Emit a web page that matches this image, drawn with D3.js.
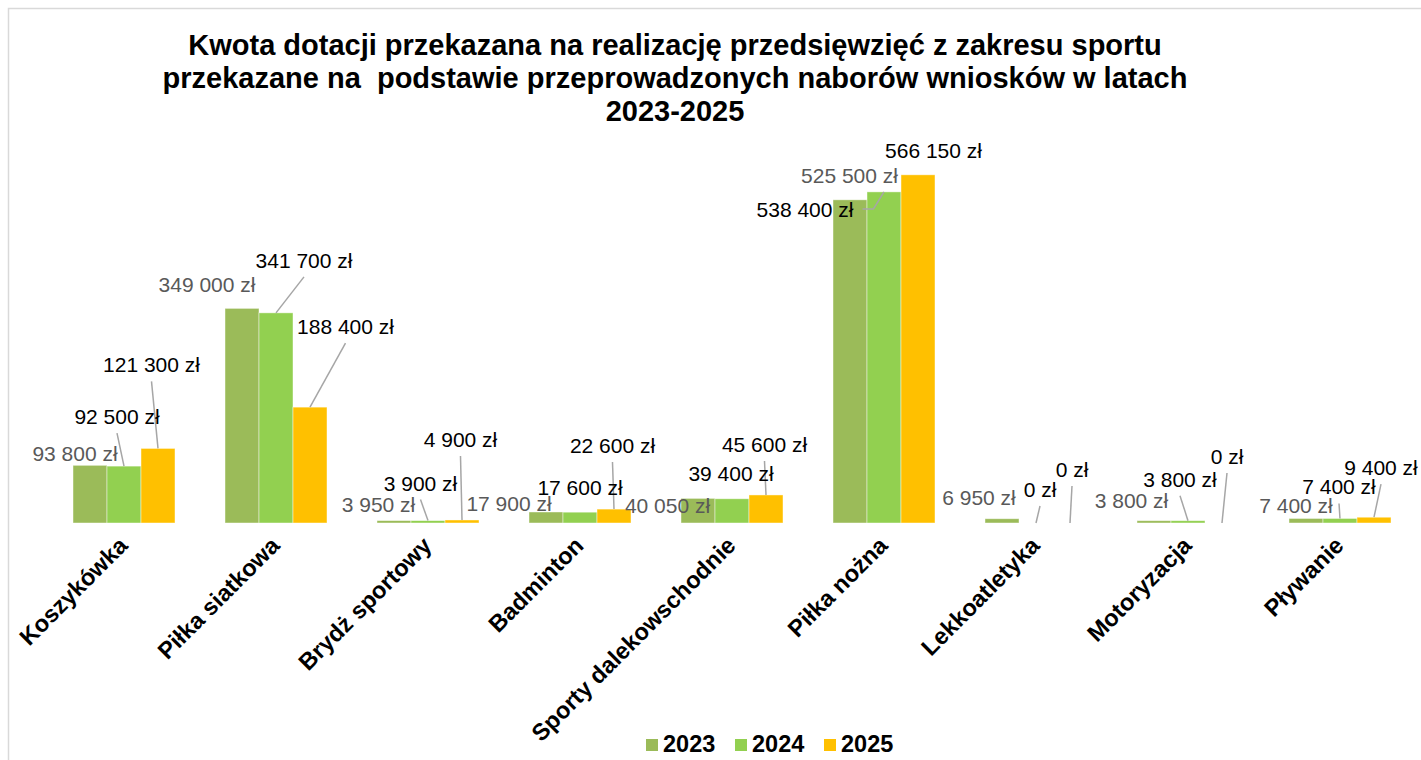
<!DOCTYPE html>
<html><head><meta charset="utf-8">
<script src="https://cdn.jsdelivr.net/npm/d3@7"></script>
<style>
html,body{margin:0;padding:0;background:#fff;}
svg{display:block;font-family:"Liberation Sans",Arial,sans-serif;}
</style></head>
<body><svg id="chart" width="1421" height="760"></svg>
<script>
// ---- data ----
const categories = ["Koszykówka","Piłka siatkowa","Brydż sportowy","Badminton","Sporty dalekowschodnie","Piłka nożna","Lekkoatletyka","Motoryzacja","Pływanie"];
const seriesNames = ["2023","2024","2025"];
const values2023 = [93800, 349000, 3950, 17900, 40050, 525500, 6950, 3800, 7400];
const values2024 = [92500, 341700, 3900, 17600, 39400, 538400, 0, 3800, 7400];
const values2025 = [121300, 188400, 4900, 22600, 45600, 566150, 0, 0, 9400];
const titleLines = ["Kwota dotacji przekazana na realizację przedsięwzięć z zakresu sportu",
                    "przekazane na  podstawie przeprowadzonych naborów wniosków w latach",
                    "2023-2025"];

// ---- styling / layout (label offsets from bar top: dx, dy, leader type) ----
const colors = ["#9BBB59","#92D050","#FFC000"];
const labelColors = ["#595959","#000000","#000000"];
const labelLayout = [
  [[-15,-4,0],[-35,-16,0],[-15.5,-9,0],[-37,-1,0],[-30.5,15,0],[-0.5,-17,0],[-23,-14,0],[-22.5,-13,0],[-10,-5,0]],
  [[-7,-42,1],[28,-45,1],[-7.5,-30,1],[0,-17,0],[-1,-18,0],[-79,25,2],[4,-26,1],[-8,-34,1],[-1,-24,1]],
  [[-6.5,-76,1],[35.5,-73,1],[-1.5,-73,1],[-1.5,-56,1],[-1.5,-43,1],[15.5,-17,0],[2,-46,1],[5,-59,1],[7,-42,1]]
];

const allValues = [values2023, values2024, values2025];
const svg = d3.select("#chart");

// chart border
svg.append("rect").attr("x",8.5).attr("y",8.5).attr("width",1440).attr("height",800)
  .attr("fill","#fff").attr("stroke","#d9d9d9").attr("stroke-width",1.5);

// title
const title = svg.append("text").attr("text-anchor","middle").attr("font-size",29)
  .attr("font-weight","bold").attr("fill","#000").style("white-space","pre");
titleLines.forEach((t,i)=>{
  title.append("tspan").attr("x",675).attr("y",55+i*33).style("white-space","pre").text(t);
});

// scales
const x0 = d3.scaleBand().domain(categories).range([48,1416]).paddingInner(0.329).paddingOuter(0.1645);
const x1 = d3.scaleBand().domain(seriesNames).range([0,x0.bandwidth()]);
const y = d3.scaleLinear().domain([0,600000]).range([523,154]);

const fmt = v => d3.format(",")(v).replace(/,/g," ") + " zł";

// bars
const gBars = svg.append("g");
seriesNames.forEach((s,si)=>{
  gBars.selectAll(null).data(categories).enter().append("rect")
    .attr("x",c=>x0(c)+x1(s))
    .attr("y",(c,i)=>y(allValues[si][i]))
    .attr("width",x1.bandwidth())
    .attr("height",(c,i)=>y(0)-y(allValues[si][i]))
    .attr("fill",colors[si])
    .attr("stroke","rgba(255,255,255,0.55)")
    .attr("stroke-width",0.8);
});

// data labels + leader lines
const gLead = svg.append("g");
const gLab = svg.append("g");
seriesNames.forEach((s,si)=>{
  categories.forEach((c,i)=>{
    const v = allValues[si][i];
    const bx = x0(c)+x1(s)+x1.bandwidth()/2;
    const by = y(v);
    const [dx,dy,lt] = labelLayout[si][i];
    const lx = bx+dx, ly = by+dy;
    const t = gLab.append("text").attr("x",lx).attr("y",ly).attr("text-anchor","middle")
      .attr("font-size",21).attr("fill",labelColors[si]).text(fmt(v));
    if(lt===1){
      gLead.append("line").attr("x1",lx).attr("y1",ly+9).attr("x2",bx).attr("y2",by)
        .attr("stroke","#a6a6a6").attr("stroke-width",1.5);
    } else if(lt===2){
      const w = t.node().getComputedTextLength();
      const sx = lx + w/2 + 9, sy = ly - 8;
      gLead.append("polyline").attr("points",`${sx},${sy} ${sx+11},${sy} ${bx},${by}`)
        .attr("fill","none").attr("stroke","#a6a6a6").attr("stroke-width",1.5);
    }
  });
});

// x axis labels
const xAxis = d3.axisBottom(x0).tickSize(0).tickPadding(0);
const gx = svg.append("g").attr("transform","translate(0,523)").call(xAxis);
gx.select(".domain").remove();
gx.selectAll(".tick text")
  .attr("font-family","\"Liberation Sans\",Arial,sans-serif")
  .attr("font-size",23.5).attr("font-weight","bold").attr("fill","#000")
  .attr("text-anchor","end").attr("dy",null).attr("y",0)
  .attr("transform","translate(5,24) rotate(-45)");

// legend
const legendX = [646, 735, 824];
const gL = svg.append("g");
seriesNames.forEach((s,si)=>{
  gL.append("rect").attr("x",legendX[si]).attr("y",739).attr("width",12).attr("height",12).attr("fill",colors[si]);
  gL.append("text").attr("x",legendX[si]+17).attr("y",752).attr("font-size",23.5).attr("font-weight","bold")
    .attr("fill","#000").text(s);
});
</script></body></html>
